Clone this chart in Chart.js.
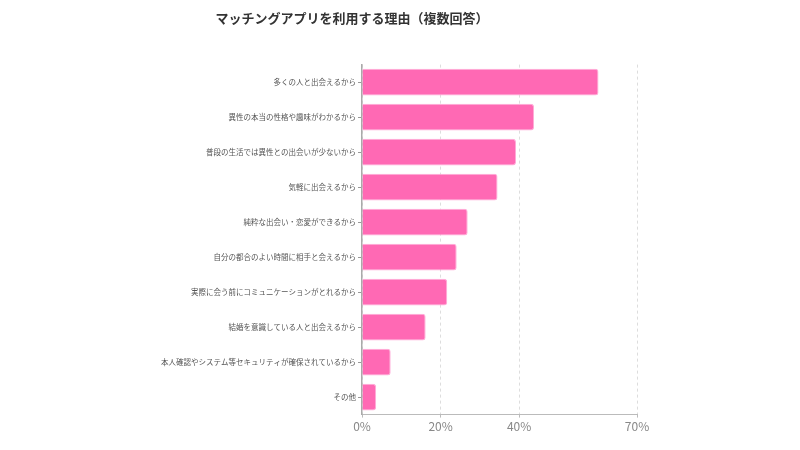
<!DOCTYPE html>
<html lang="ja">
  <head>
    <meta charset="UTF-8" />
    <title>マッチングアプリを利用する理由</title>
    <script src="https://cdn.jsdelivr.net/npm/chart.js"></script>
    <style>
      html, body {
        margin: 0;
        padding: 0;
        background: #fff;
      }
      .container {
        width: 800px;
        height: 450px;
      }
    </style>
  </head>
  <body>
    <div class="container">
      <canvas id="myChart" width="800" height="450"></canvas>
    </div>

    <script>
      // data
      var categories = [
        "多くの人と出会えるから",
        "異性の本当の性格や趣味がわかるから",
        "普段の生活では異性との出会いが少ないから",
        "気軽に出会えるから",
        "純粋な出会い・恋愛ができるから",
        "自分の都合のよい時間に相手と会えるから",
        "実際に会う前にコミュニケーションがとれるから",
        "結婚を意識している人と出会えるから",
        "本人確認やシステム等セキュリティが確保されているから",
        "その他"
      ];
      var values = [60.2, 43.8, 39.2, 34.5, 26.9, 24.1, 21.7, 16.2, 7.3, 3.6];
      var xTicks = [0, 20, 40, 70];

      var font = "'Noto Sans CJK JP', 'Noto Sans', sans-serif";

      var ctx = document.getElementById("myChart").getContext("2d");
      new Chart(ctx, {
        type: "bar",
        data: {
          labels: categories,
          datasets: [{
            label: "割合",
            data: values,
            backgroundColor: "rgb(255, 105, 180)",
            borderColor: "rgba(255, 170, 215, 1)",
            borderWidth: 1,
            borderRadius: 3,
            borderSkipped: "start",
            barPercentage: 0.96,
            categoryPercentage: 0.8
          }]
        },
        options: {
          indexAxis: "y",
          responsive: false,
          animation: false,
          layout: {
            padding: { left: 67, right: 163, top: 0, bottom: 14 }
          },
          plugins: {
            legend: { display: false },
            tooltip: { enabled: false },
            title: {
              display: true,
              text: "マッチングアプリを利用する理由（複数回答）",
              color: "#333",
              font: { family: font, size: 13, weight: "bold" },
              padding: { top: 10, bottom: 39 }
            }
          },
          scales: {
            x: {
              min: 0,
              max: 70,
              afterBuildTicks: function (scale) {
                scale.ticks = xTicks.map(function (v) { return { value: v }; });
              },
              ticks: {
                color: "#888",
                font: { family: font, size: 12 },
                padding: 2,
                callback: function (v) { return v + "%"; }
              },
              grid: {
                color: "#ddd",
                tickColor: "#bbb",
                tickLength: 3
              },
              border: {
                display: true,
                color: "#bbb",
                width: 1,
                dash: [3, 3]
              }
            },
            y: {
              afterFit: function (scale) {
                scale.width = 295;
              },
              ticks: {
                color: "#555",
                font: { family: font, size: 7.5 },
                padding: 2,
                autoSkip: false
              },
              grid: {
                offset: false,
                drawOnChartArea: false,
                tickColor: "#999",
                tickLength: 4
              },
              border: {
                color: "#aaa",
                width: 1.5
              }
            }
          }
        }
      });
    </script>
  </body>
</html>
